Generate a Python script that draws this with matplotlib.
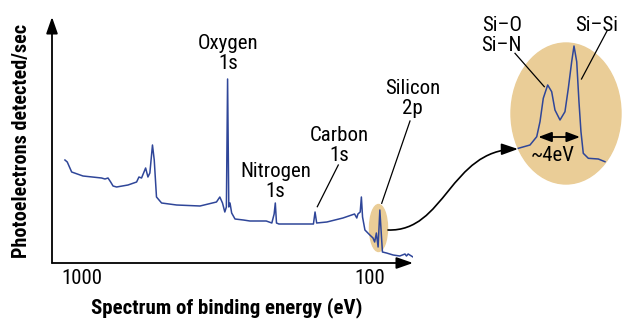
import matplotlib
matplotlib.use('Agg')
import matplotlib.pyplot as plt
from matplotlib.patches import Ellipse, FancyArrowPatch
from matplotlib.path import Path
from matplotlib.lines import Line2D
from matplotlib.ticker import NullLocator

W, H = 626, 321
FONT = ['Roboto Condensed', 'DejaVu Sans']
LINE = '#2F4699'
TAN = '#EACD97'

# survey spectrum: binding energy (eV) and counts (arbitrary units)
energy = [1146, 1125, 1086, 992, 855, 832, 812, 795, 780, 758, 692, 646, 634, 621,
          601, 590, 581, 569, 561, 551, 529, 469, 389, 341, 332, 325, 319, 315,
          312, 309, 306, 302, 294, 275, 261, 229, 219, 215, 213, 211, 207, 175,
          157, 155, 153, 141, 124, 113, 111, 110, 108, 107, 106, 104, 100, 97.5,
          96.2, 94.9, 93.6, 92.3, 91.1, 90.4, 87.5, 83.0, 78.7, 75.5, 74.6, 73.6, 70.8]
counts = [103, 101, 91, 87, 85, 84, 85, 81, 77, 76, 78, 81, 86, 85,
          95, 86, 90, 118, 103, 66, 60, 58, 57, 61, 66, 60, 51, 56,
          184, 56, 60, 50, 44, 43, 42, 42, 40, 49, 60, 40, 39, 39,
          39, 51, 40, 41, 45, 49, 45, 49, 51, 66, 46, 33, 28, 25,
          21, 30, 16, 53, 26, 11, 10, 8, 7, 9, 7, 9, 6]

# zoomed Si 2p region
si_energy = [105.96, 104.5, 103.66, 103.25, 102.84, 102.29, 101.79, 101.38, 100.75, 100.13,
             99.71, 99.29, 99.0, 98.66, 98.38, 98.13, 97.84, 97.21, 95.96, 95.13]
si_counts = [21.7, 25, 33.3, 48.3, 71.7, 85, 78.3, 60, 50, 58.3,
             81.7, 108.3, 124, 108.3, 68.3, 38.3, 16.7, 11.7, 11, 8.3]

tick_values = [1000, 100]
tick_labels = ['1000', '100']


def fx(x):
    return x / W


def fy(y):
    return 1 - y / H


fig = plt.figure(figsize=(W / 100, H / 100), dpi=100)
ax = fig.add_axes([fx(52), fy(263), (413 - 52) / W, (263 - 17) / H])
ax.patch.set_alpha(0)
ax.set_xscale('log')
ax.set_xlim(1271, 70.8)
ax.set_ylim(0, 246)
ax.plot(energy, counts, color=LINE, lw=1.1, zorder=3)
for s in ax.spines.values():
    s.set_visible(False)
ax.set_xticks(tick_values)
ax.set_xticklabels(tick_labels, fontsize=15, family=FONT)
ax.xaxis.set_minor_locator(NullLocator())
ax.tick_params(axis='x', length=0, pad=4)
ax.set_yticks([])

# axis arrows
arrow_kw = dict(arrowstyle='-|>,head_length=1.0,head_width=0.35', color='black',
                lw=1.3, mutation_scale=10, shrinkA=0, shrinkB=0)
ax.annotate('', xy=(1, 0), xytext=(0, 0), xycoords='axes fraction', arrowprops=arrow_kw)
ax.annotate('', xy=(0, 1), xytext=(0, 0), xycoords='axes fraction', arrowprops=arrow_kw)

# highlight ellipses
ax.add_patch(Ellipse((fx(378.5), fy(228)), 18 / W, 47 / H, transform=fig.transFigure,
                     color=TAN, zorder=1, clip_on=False))
ax.add_patch(Ellipse((fx(566), fy(113.5)), 110 / W, 141 / H, transform=fig.transFigure,
                     color=TAN, zorder=1, clip_on=False))

# inset
ins = fig.add_axes([fx(510), fy(170), 105 / W, 130 / H])
ins.axis('off')
ins.set_xlim(107.0, 93.875)
ins.set_ylim(0, 130)
ins.plot(si_energy, si_counts, color=LINE, lw=1.1)

# curved arrow to inset
verts = [(fx(388), fy(230)), (fx(445), fy(232)), (fx(450), fy(150)), (fx(518), fy(149))]
curve = Path(verts, [Path.MOVETO, Path.CURVE4, Path.CURVE4, Path.CURVE4])
fig.add_artist(FancyArrowPatch(path=curve, arrowstyle='-|>,head_length=1.0,head_width=0.35',
                               mutation_scale=10, color='black', lw=1.2,
                               transform=fig.transFigure))

# ~4eV double arrow
fig.add_artist(FancyArrowPatch(posA=(fx(538.3), fy(137)), posB=(fx(580), fy(137)),
                               arrowstyle='<|-|>,head_length=0.8,head_width=0.3',
                               mutation_scale=10, color='black', lw=1.3,
                               shrinkA=0, shrinkB=0, transform=fig.transFigure))

# leader lines
leaders = [((338.3, 165), (317.3, 206.7)),
           ((410, 121), (381.7, 203.3)),
           ((515, 53.3), (544.3, 86.7)),
           ((607, 31), (581.5, 79))]
for (x0, y0), (x1, y1) in leaders:
    fig.add_artist(Line2D([fx(x0), fx(x1)], [fy(y0), fy(y1)], color='black', lw=0.9))

labels = [('Oxygen', 228, 49), ('1s', 228, 69),
          ('Nitrogen', 275.5, 177), ('1s', 275.5, 197),
          ('Carbon', 339.5, 141), ('1s', 339.5, 161),
          ('Silicon', 412.5, 94), ('2p', 412.5, 114),
          ('Si\u2013O', 501.7, 31), ('Si\u2013N', 501.7, 51),
          ('Si\u2013Si', 596.7, 31),
          ('~4eV', 553, 161)]
for s, x, y in labels:
    fig.text(fx(x), fy(y), s, ha='center', va='baseline', fontsize=15, family=FONT)

fig.text(fx(226.7), fy(313), 'Spectrum of binding energy (eV)', ha='center',
         va='baseline', fontsize=15, weight='bold', family=FONT)
fig.text(fx(22), fy(141), 'Photoelectrons detected/sec', rotation=90, ha='center',
         va='center', fontsize=14.5, weight='bold', family=FONT)

fig.savefig('out.png', dpi=100)
